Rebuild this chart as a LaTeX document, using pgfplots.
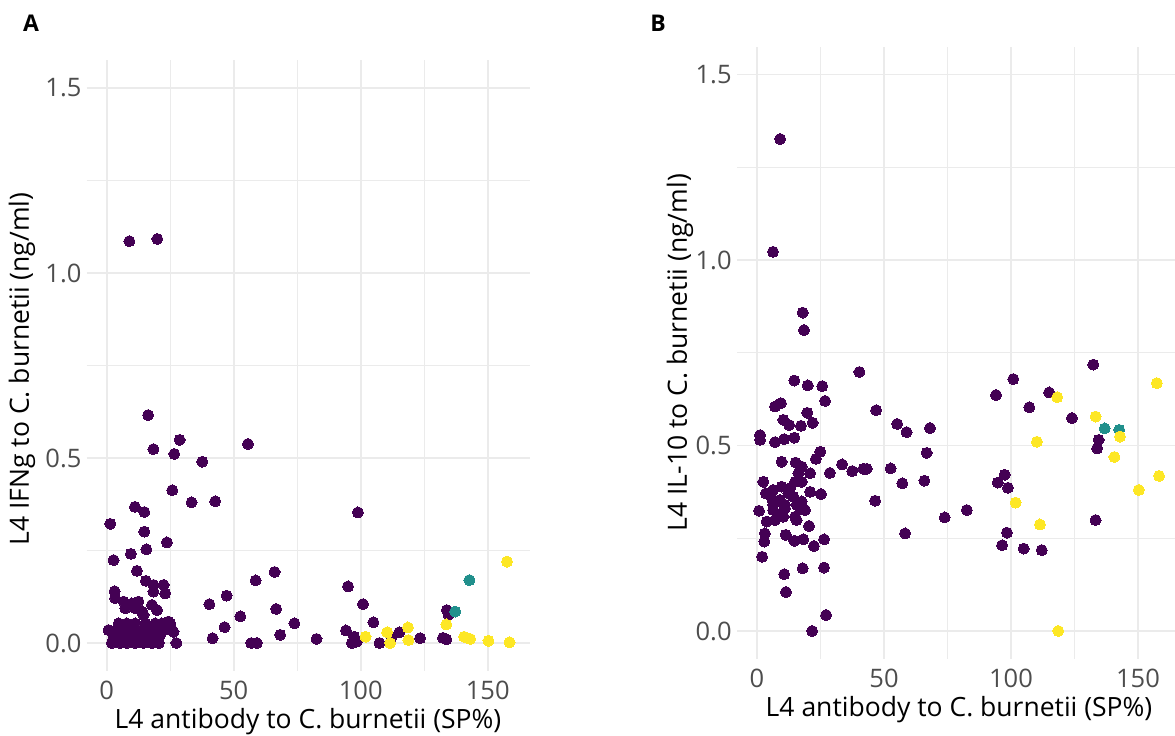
\documentclass[border=0pt]{standalone}
\usepackage{fontspec}
\setmainfont{Open Sans}
\usepackage{pgfplots}
\pgfplotsset{compat=1.18}
\definecolor{vpurple}{HTML}{440154}
\definecolor{vteal}{HTML}{21908C}
\definecolor{vyellow}{HTML}{FDE725}
\definecolor{gridc}{HTML}{EBEBEB}
\definecolor{tickc}{HTML}{4D4D4D}

\pgfplotstableread{
x y
8.9 1.086
19.9 1.092
16.3 0.616
18.4 0.524
28.7 0.549
26.6 0.511
37.6 0.490
55.6 0.538
25.8 0.413
33.4 0.380
42.7 0.383
98.9 0.353
11.1 0.368
14.8 0.354
1.4 0.322
14.8 0.301
23.7 0.272
15.6 0.253
9.5 0.241
2.7 0.224
11.9 0.195
15.4 0.168
3.1 0.140
3.3 0.121
66.1 0.192
58.6 0.169
47.2 0.128
40.4 0.105
66.7 0.092
52.6 0.072
46.4 0.043
73.9 0.053
41.7 0.013
68.3 0.022
56.9 0.000
59.1 0.000
82.6 0.011
95.0 0.153
100.9 0.105
105.0 0.056
94.2 0.034
97.4 0.017
96.5 0.000
98.5 0.004
107.4 0.000
112.1 0.015
115.2 0.029
123.4 0.013
133.9 0.089
134.6 0.076
132.4 0.014
133.7 0.010
6.6 0.112
7.3 0.094
12.5 0.112
11.2 0.094
13.9 0.085
18.4 0.157
22.4 0.157
18.4 0.139
23.0 0.134
17.8 0.103
19.8 0.089
14.5 0.076
9.9 0.107
4.7 0.053
7.9 0.053
11.2 0.053
15.2 0.053
19.1 0.053
21.7 0.053
25.0 0.053
24.3 0.058
0.7 0.035
4.0 0.035
7.3 0.035
11.2 0.035
14.5 0.035
18.4 0.035
22.4 0.035
25.7 0.035
26.3 0.030
2.7 0.017
6.0 0.017
9.3 0.017
13.2 0.017
17.1 0.017
19.8 0.017
21.1 0.022
2.0 0.000
5.3 0.000
7.9 0.000
11.2 0.000
14.5 0.000
17.8 0.000
20.5 0.000
27.4 0.000
}\Apurple
\pgfplotstableread{
x y
137.2 0.085
142.8 0.170
}\Ateal
\pgfplotstableread{
x y
101.9 0.017
110.4 0.029
111.6 0.000
118.6 0.042
118.8 0.008
133.7 0.050
140.7 0.017
143.1 0.011
150.3 0.006
158.6 0.002
157.6 0.220
}\Ayellow
\pgfplotstableread{
x y
9.1 1.326
6.3 1.022
18.0 0.858
18.5 0.811
40.3 0.698
14.7 0.675
20.0 0.662
25.7 0.660
26.8 0.620
7.1 0.605
9.4 0.614
19.8 0.588
46.9 0.595
10.4 0.569
12.7 0.555
17.3 0.553
21.9 0.561
55.2 0.558
58.9 0.536
68.1 0.547
1.2 0.528
1.2 0.515
7.1 0.509
10.7 0.517
14.7 0.521
66.8 0.480
24.9 0.483
23.2 0.464
9.7 0.456
15.2 0.454
33.5 0.449
37.5 0.431
41.9 0.437
43.2 0.437
52.6 0.438
28.7 0.426
65.9 0.405
57.2 0.398
17.6 0.443
16.3 0.425
20.9 0.425
2.5 0.402
15.0 0.402
17.6 0.402
3.5 0.371
6.4 0.380
9.7 0.389
13.0 0.385
12.3 0.371
20.9 0.375
25.2 0.369
5.8 0.358
9.1 0.353
14.3 0.362
17.6 0.349
6.4 0.340
11.0 0.340
15.6 0.340
0.8 0.324
6.4 0.326
11.0 0.331
17.6 0.328
18.9 0.326
9.6 0.313
15.0 0.308
46.5 0.351
3.8 0.295
7.1 0.299
10.4 0.308
15.6 0.299
20.5 0.283
3.1 0.263
11.3 0.259
14.7 0.243
18.2 0.247
22.4 0.229
26.4 0.247
2.9 0.241
58.3 0.263
2.0 0.200
10.7 0.153
18.0 0.169
26.4 0.171
11.4 0.105
27.2 0.043
21.7 0.000
132.4 0.718
100.9 0.679
94.1 0.636
115.0 0.643
107.2 0.603
124.0 0.574
134.5 0.515
133.9 0.492
97.5 0.421
94.8 0.400
98.8 0.386
82.6 0.326
73.9 0.306
133.3 0.299
98.4 0.265
96.5 0.231
105.0 0.222
112.1 0.218
}\Bpurple
\pgfplotstableread{
x y
136.9 0.546
142.6 0.542
}\Bteal
\pgfplotstableread{
x y
118.2 0.630
133.3 0.578
142.9 0.524
110.2 0.510
140.7 0.469
157.4 0.668
158.3 0.418
150.3 0.380
101.8 0.346
111.4 0.287
118.6 0.000
}\Byellow

\pgfplotsset{
  panel/.style={
    scale only axis,
    anchor=south west,
    clip=false,
    axis line style={draw=none},
    tick style={draw=none},
    major tick length=0pt,
    grid=both,
    major grid style={gridc, line width=1.6pt},
    minor grid style={gridc, line width=0.8pt},
    xtick={0,50,100,150},
    xticklabels={0,50,100,150},
    minor xtick={25,75,125},
    ytick={0,0.5,1,1.5},
    yticklabels={0.0,0.5,1.0,1.5},
    minor ytick={0.25,0.75,1.25},
    ymin=-0.075, ymax=1.575,
    ticklabel style={font=\fontsize{25.5}{30}\selectfont, text=tickc},
    xticklabel style={anchor=base, inner sep=0pt, yshift=-28.5pt},
    yticklabel style={anchor=east, inner sep=0pt, xshift=-5pt},
  },
  pts/.style={only marks, mark=*, mark size=5.5pt, color=#1, line width=0pt, mark options={draw=#1, fill=#1, line width=0pt}},
}

\begin{document}
\begin{tikzpicture}[x=1pt,y=1pt]
\useasboundingbox (0,0) rectangle (1175,736);
% Panel A
\begin{axis}[panel, at={(86.6pt,65.25pt)}, width=443pt, height=610.5pt,
  xmin=-7.93, xmax=166.5]
\addplot[pts=vpurple] table {\Apurple};
\addplot[pts=vteal] table {\Ateal};
\addplot[pts=vyellow] table {\Ayellow};
\end{axis}
% Panel B
\begin{axis}[panel, at={(736.8pt,77.2pt)}, width=438.2pt, height=612.2pt,
  xmin=-7.95, xmax=164.57]
\addplot[pts=vpurple] table {\Bpurple};
\addplot[pts=vteal] table {\Bteal};
\addplot[pts=vyellow] table {\Byellow};
\end{axis}
\node[font=\bfseries\fontsize{23}{27}\selectfont] at (31,712.5) {A};
\node[font=\bfseries\fontsize{23}{27}\selectfont] at (658,712.5) {B};
\node[rotate=90, font=\fontsize{26.5}{31}\selectfont] at (22,367) {L4 IFNg to C. burnetii (ng/ml)};
\node[rotate=90, font=\fontsize{26.5}{31}\selectfont] at (680,383.25) {L4 IL-10 to C. burnetii (ng/ml)};
\node[anchor=base, font=\fontsize{26.5}{31}\selectfont] at (308,7) {L4 antibody to C. burnetii (SP\%)};
\node[anchor=base, font=\fontsize{26.5}{31}\selectfont] at (959,19) {L4 antibody to C. burnetii (SP\%)};
\end{tikzpicture}
\end{document}
